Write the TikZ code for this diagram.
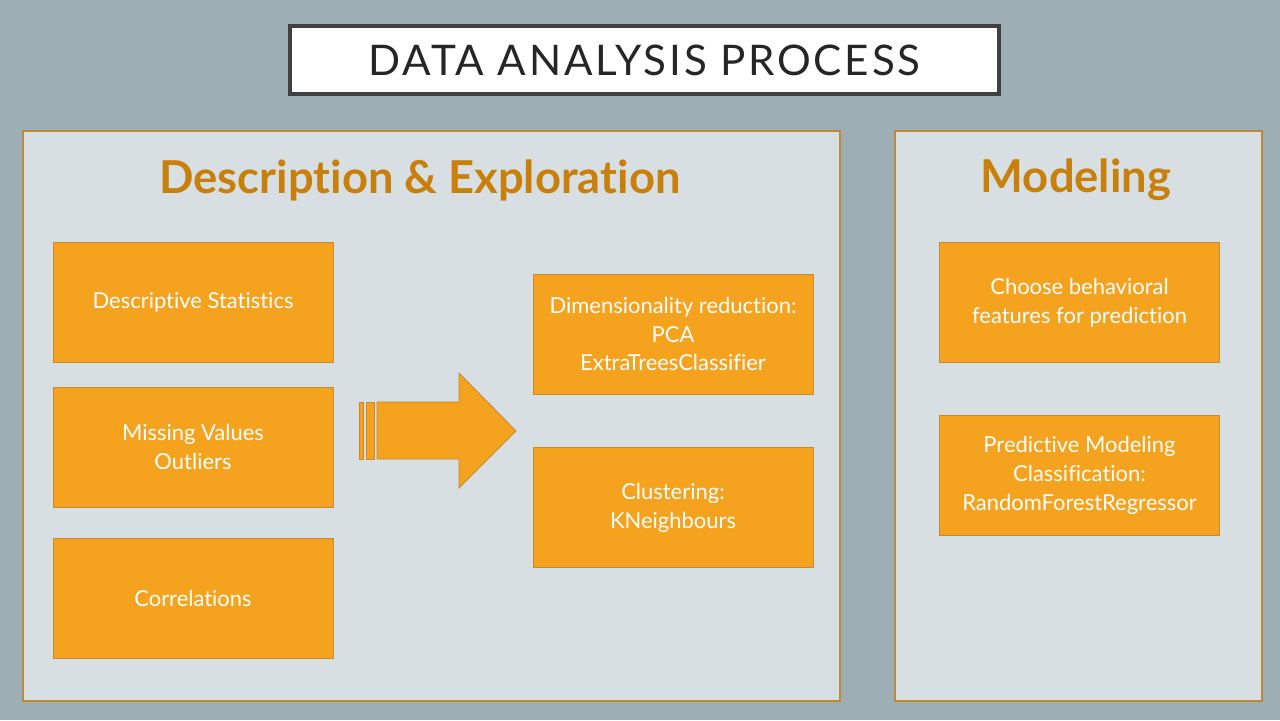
\documentclass[tikz,border=0pt]{standalone}
\usepackage{fontspec}
\setmainfont{Lato}[Ligatures = NoCommon]
\definecolor{slide}{RGB}{157,174,180}
\definecolor{panel}{RGB}{216,223,226}
\definecolor{panelline}{RGB}{192,138,52}
\definecolor{boxfill}{RGB}{245,163,30}
\definecolor{boxline}{RGB}{196,138,52}
\definecolor{heading}{RGB}{200,128,10}
\definecolor{titleline}{RGB}{64,64,64}
\begin{document}
\begin{tikzpicture}[x = 0.02cm, y = -0.02cm,
  panelbox/.style = {draw = panelline, fill = panel, line width = 0.6pt},
  stepbox/.style = {draw = boxline, fill = boxfill, line width = 0.5pt, text = white,
    minimum width = 5.6cm, minimum height = 2.4cm, align = center,
    font = \fontsize{12.5}{16.5}\selectfont},
  headtext/.style = {text = heading, font = \fontsize{25.8}{30}\selectfont\bfseries}]
\useasboundingbox[fill = slide] (0,0) rectangle (1280,720);
% title
\node[draw = titleline, line width = 2.3pt, fill = white, minimum width = 14.2cm,
  minimum height = 1.36cm, font = \fontsize{24}{28}\selectfont\addfontfeature{LetterSpace = 6.5},
  text = black!85] at (644.5,60) (title) {DATA ANALYSIS PROCESS};
% panels
\filldraw[panelbox] (23,131) rectangle (840,701);
\filldraw[panelbox] (895,131) rectangle (1262,701);
\node[headtext] at (420,180) (explore) {Description \& Exploration};
\node[headtext] at (1076,180) (model) {Modeling};
% left column
\node[stepbox] at (193,302.5) (desc) {Descriptive Statistics};
\node[stepbox] at (193,447) (miss) {Missing Values\\Outliers};
\node[stepbox] at (193,598) (corr) {Correlations};
% middle column
\node[stepbox] at (673,334) (dim) {Dimensionality reduction:\\PCA\\ExtraTreesClassifier};
\node[stepbox] at (673,507.5) (clust) {Clustering:\\KNeighbours};
% right column
\node[stepbox] at (1079.5,302.5) (feat) {Choose behavioral\\features for prediction};
\node[stepbox] at (1079.5,475.5) (pred) {Predictive Modeling\\Classification:\\RandomForestRegressor};
% striped arrow
\filldraw[draw = boxline, fill = boxfill, line width = 0.5pt] (359,402) rectangle (363,459);
\filldraw[draw = boxline, fill = boxfill, line width = 0.5pt] (366,402) rectangle (374,459);
\filldraw[draw = boxline, fill = boxfill, line width = 0.5pt]
  (377,402) -- (459,402) -- (459,373) -- (516,431) -- (459,488) -- (459,459) -- (377,459) -- cycle;
\end{tikzpicture}
\end{document}
